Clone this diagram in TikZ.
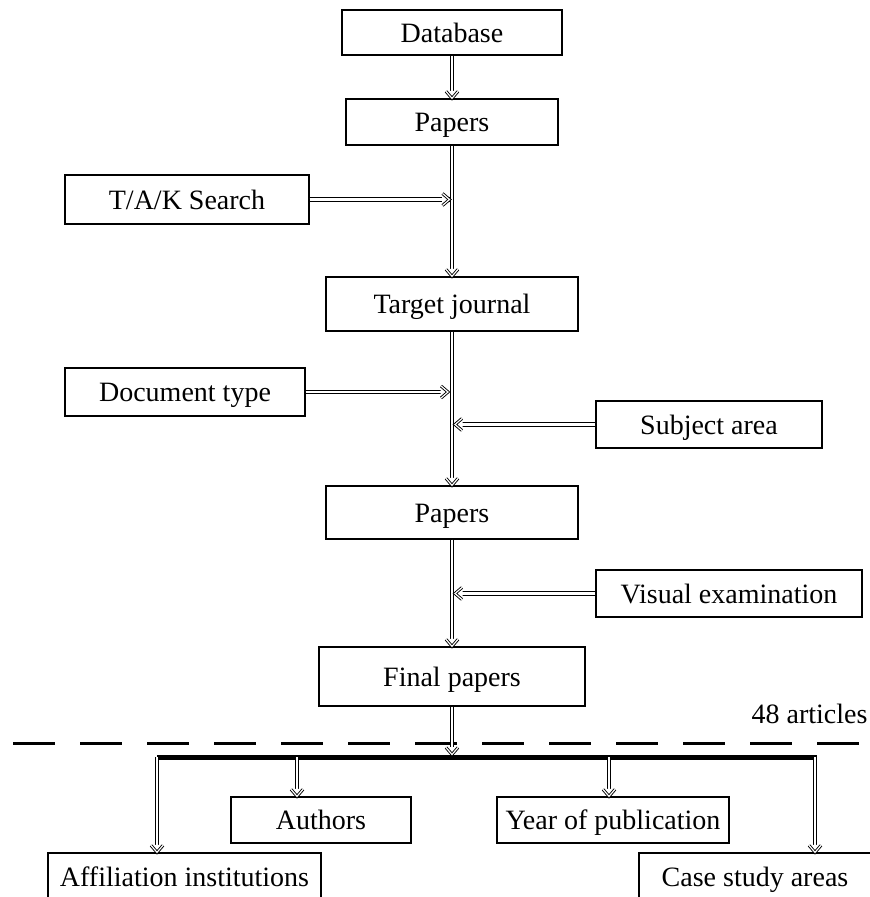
\documentclass[tikz,border=0pt]{standalone}
\usepackage{fontspec}
\setmainfont{Liberation Serif}
\usetikzlibrary{calc, decorations.markings}
\tikzset{dbl/.style = {double, double distance=2.2pt, line width=1.2pt,
    decoration={markings, mark=at position 1 with {
        \fill[white] (0.3pt,0) -- (-7.5pt,6.5pt) -- (-7.5pt,-6.5pt) -- cycle;
        \draw[double, double distance=1.2pt, line width=0.9pt, line join=miter]
            (-7pt,6pt) -- (0,0) -- (-7pt,-6pt);}},
    postaction={decorate}}}

\begin{document}
\begin{tikzpicture}[x=1pt, y=-1pt,
    box/.style={draw, line width=1.3pt, rectangle, inner sep=0pt,
        text height=22pt, text depth=3pt,
        font=\fontsize{28}{32}\selectfont},
    ]
    \clip (0,0) rectangle (870,897);

    % Main chain
    \node[box, minimum width=220pt, minimum height=45pt] (db) at (452,32.5) {Database};
    \node[box, minimum width=212pt, minimum height=46pt] (pap1) at (452,122) {Papers};
    \node[box, minimum width=252pt, minimum height=54pt] (tj) at (452,304) {Target journal};
    \node[box, minimum width=252pt, minimum height=53pt] (pap2) at (452,512.5) {Papers};
    \node[box, minimum width=266pt, minimum height=59pt] (fin) at (452,676.5) {Final papers};

    % Filters
    \node[box, minimum width=244pt, minimum height=49pt] (tak) at (187,199.5) {T/A/K Search};
    \node[box, minimum width=240pt, minimum height=48pt] (doc) at (185,392) {Document type};
    \node[box, minimum width=226pt, minimum height=47pt] (subj) at (709,424.5) {Subject area};
    \node[box, minimum width=266pt, minimum height=47pt] (vis) at (729,593.5) {Visual examination};

    % Outputs
    \node[box, minimum width=180pt, minimum height=46pt] (auth) at (321,820) {Authors};
    \node[box, minimum width=232pt, minimum height=46pt] (year) at (613,820) {Year of publication};
    \node[box, minimum width=273pt, minimum height=48pt] (aff) at (184.5,877) {Affiliation institutions};
    \node[box, minimum width=232pt, minimum height=48pt] (case) at (755,877) {Case study areas};

    % Flow
    \draw[dbl] (db.south) -- (pap1.north);
    \draw[dbl] (pap1.south) -- (tj.north);
    \draw[dbl] (tj.south) -- (pap2.north);
    \draw[dbl] (pap2.south) -- (fin.north);
    \draw[dbl] (tak.east) -- ($(tak.east -| pap1.south)+(-2.5,0)$);
    \draw[dbl] (doc.east) -- ($(doc.east -| tj.south)+(-4,0)$);
    \draw[dbl] (subj.west) -- ($(subj.west -| tj.south)+(3,0)$);
    \draw[dbl] (vis.west) -- ($(vis.west -| pap2.south)+(3,0)$);

    % Cut line
    \coordinate (cutL) at (13,743);
    \coordinate (cutR) at (880,743);
    \draw[line width=3pt, dash pattern=on 42pt off 25pt] (cutL) -- (cutR);
    \node[anchor=east, font=\fontsize{28}{32}\selectfont] (count) at (871,714) {48 articles};

    % Bar
    \coordinate (barL) at (157,757);
    \coordinate (barR) at (817,757);
    \draw[line width=5pt] (barL) -- (barR);
    \draw[dbl] (fin.south) -- ($(fin.south |- barL)+(0,-2.5)$);
    \draw[dbl] (barL) -- (barL |- aff.north);
    \draw[dbl] (barL -| auth.north) ++(-24,0) coordinate (authT) -- (authT |- auth.north);
    \draw[dbl] (barL -| year.north) ++(-4,0) coordinate (yearT) -- (yearT |- year.north);
    \draw[dbl] (barR) ++(-2,0) coordinate (caseT) -- (caseT |- case.north);

\end{tikzpicture}
\end{document}
